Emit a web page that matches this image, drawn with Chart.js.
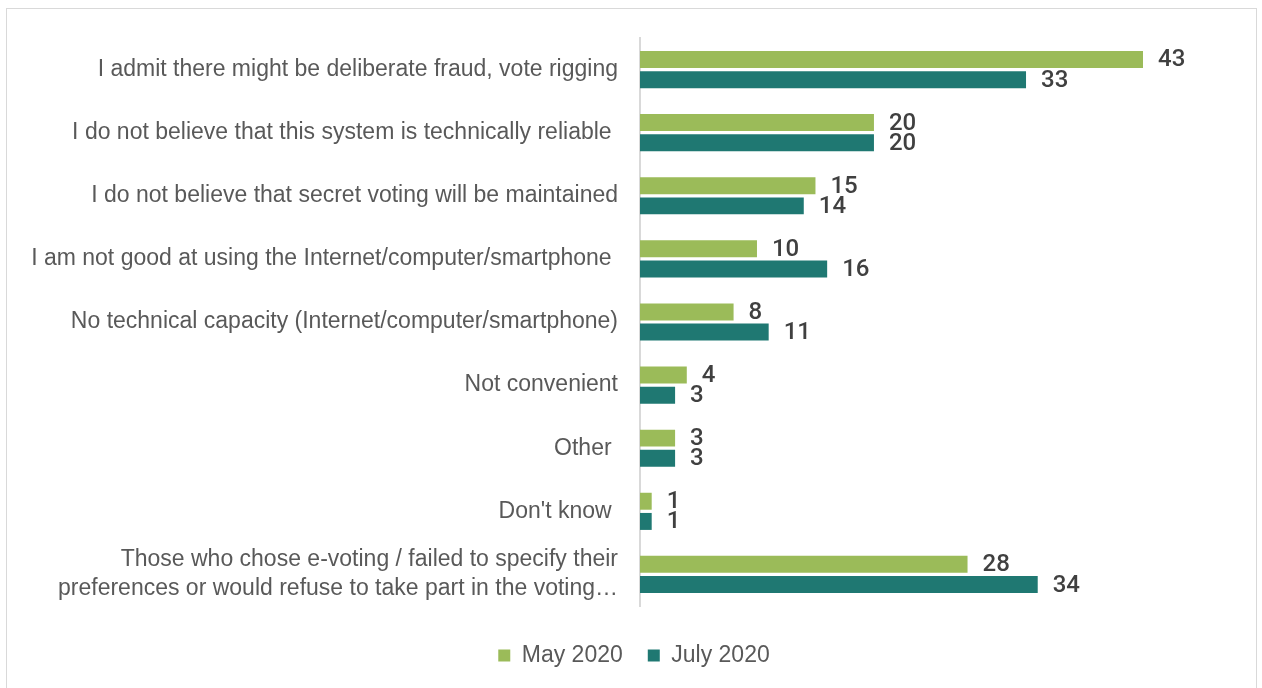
<!DOCTYPE html>
<html>
<head>
<meta charset="utf-8">
<script src="https://cdn.jsdelivr.net/npm/chart.js@4"></script>
<style>
  html, body { margin: 0; padding: 0; background: #fff; overflow: hidden; }
  #box { position: absolute; left: 6px; top: 8px; width: 1249px; height: 700px; border: 1px solid #d9d9d9; }
</style>
</head>
<body>
<div id="box"><canvas id="myChart" width="1249" height="700"></canvas></div>
<script>
// categories (reasons)
const reasons = [
  "I admit there might be deliberate fraud, vote rigging",
  "I do not believe that this system is technically reliable ",
  "I do not believe that secret voting will be maintained",
  "I am not good at using the Internet/computer/smartphone ",
  "No technical capacity (Internet/computer/smartphone)",
  "Not convenient",
  "Other ",
  "Don't know ",
  ["Those who chose e-voting / failed to specify their", "preferences or would refuse to take part in the voting…"]
];
const may2020 = [43, 20, 15, 10, 8, 4, 3, 1, 28];
const july2020 = [33, 20, 14, 16, 11, 3, 3, 1, 34];

const fontFam = "'Liberation Sans', Arial, sans-serif";

// vẽ số ở cuối mỗi thanh
const barLabels = {
  id: "barLabels",
  afterDatasetsDraw(chart) {
    const ctx = chart.ctx;
    ctx.save();
    ctx.font = "500 24px Roboto, sans-serif";
    ctx.fillStyle = "#404040";
    ctx.textAlign = "left";
    ctx.textBaseline = "middle";
    chart.data.datasets.forEach((ds, i) => {
      chart.getDatasetMeta(i).data.forEach((bar, j) => {
        ctx.fillText(ds.data[j], bar.x + 15, bar.y + 1);
      });
    });
    ctx.restore();
  }
};

const ctx = document.getElementById("myChart").getContext("2d");
const myChart = new Chart(ctx, {
  type: "bar",
  data: {
    labels: reasons,
    datasets: [
      {
        label: "May 2020",
        data: may2020,
        backgroundColor: "#9bbb59",
        categoryPercentage: 0.64,
        barPercentage: 0.84
      },
      {
        label: "July 2020",
        data: july2020,
        backgroundColor: "#1f7872",
        categoryPercentage: 0.64,
        barPercentage: 0.84
      }
    ]
  },
  options: {
    indexAxis: "y",
    responsive: false,
    animation: false,
    layout: { padding: { top: 29, right: 0, bottom: 32, left: 5 } },
    scales: {
      x: {
        min: 0,
        max: 52.66,
        afterFit(scale) { scale.height = 13; },
        grid: { display: false, drawTicks: false },
        border: { display: false },
        ticks: { display: false }
      },
      y: {
        afterFit(scale) {
          scale.width = 628;
          scale.paddingTop = 0;
          scale.paddingBottom = 0;
        },
        grid: { display: false, drawTicks: false },
        border: { color: "#d9d9d9", width: 2 },
        ticks: {
          color: "#595959",
          padding: 22,
          font: { family: fontFam, size: 23, lineHeight: 1.26 }
        }
      }
    },
    plugins: {
      legend: {
        position: "bottom",
        labels: {
          color: "#595959",
          boxWidth: 12,
          boxHeight: 12,
          padding: 25,
          font: { family: fontFam, size: 23 }
        }
      },
      tooltip: { enabled: false }
    }
  },
  plugins: [barLabels]
});
</script>
</body>
</html>
